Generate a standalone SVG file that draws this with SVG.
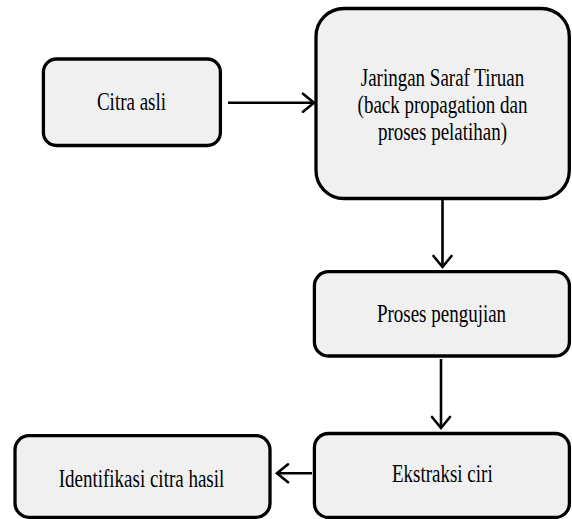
<svg xmlns="http://www.w3.org/2000/svg" width="572" height="519" viewBox="0 0 572 519">
<style>
.box{fill:#f0f0f0;stroke:#000;stroke-width:3.3}
.lbl{font-family:'Liberation Serif','Times New Roman',serif;font-size:19px;fill:#000;text-anchor:middle}
.conn{stroke:#000;stroke-width:2.6;fill:none}
</style>
<defs>
<marker id="arr" markerUnits="userSpaceOnUse" markerWidth="16" markerHeight="22" viewBox="0 0 16 22" refX="13" refY="11" orient="auto">
<path d="M2,2 L13,11 L2,20" fill="none" stroke="#000" stroke-width="2.6" stroke-linecap="round" stroke-linejoin="miter"/>
</marker>
</defs>
<rect width="572" height="519" fill="#fff"/>
<g id="citra-asli">
<rect class="box" x="43.4" y="59" width="177" height="86.5" rx="13"/>
<text class="lbl" transform="translate(131.5,110) scale(1,1.27)">Citra asli</text>
</g>
<g id="jst">
<rect class="box" x="316" y="8.5" width="253.3" height="190" rx="28"/>
<text class="lbl" transform="translate(442.5,86) scale(1,1.27)">Jaringan Saraf Tiruan</text>
<text class="lbl" transform="translate(442.5,113) scale(1,1.27)">(back propagation dan</text>
<text class="lbl" transform="translate(442.5,140) scale(1,1.27)">proses pelatihan)</text>
</g>
<g id="proses-pengujian">
<rect class="box" x="314.4" y="271.7" width="255" height="84.3" rx="14"/>
<text class="lbl" transform="translate(441.5,321.7) scale(1,1.27)">Proses pengujian</text>
</g>
<g id="ekstraksi-ciri">
<rect class="box" x="314.4" y="433.5" width="255" height="84" rx="14"/>
<text class="lbl" transform="translate(442.3,481.7) scale(1,1.27)">Ekstraksi ciri</text>
</g>
<g id="identifikasi">
<rect class="box" x="15" y="435.7" width="255" height="81.6" rx="14"/>
<text class="lbl" transform="translate(141.5,486.7) scale(1,1.27)">Identifikasi citra hasil</text>
</g>
<g id="connectors">
<line class="conn" x1="228" y1="102.7" x2="314" y2="102.7" marker-end="url(#arr)"/>
<line class="conn" x1="442.5" y1="200" x2="442.5" y2="267" marker-end="url(#arr)"/>
<line class="conn" x1="441" y1="359" x2="441" y2="428" marker-end="url(#arr)"/>
<line class="conn" x1="312" y1="473.3" x2="277" y2="473.3" marker-end="url(#arr)"/>
</g>
</svg>
